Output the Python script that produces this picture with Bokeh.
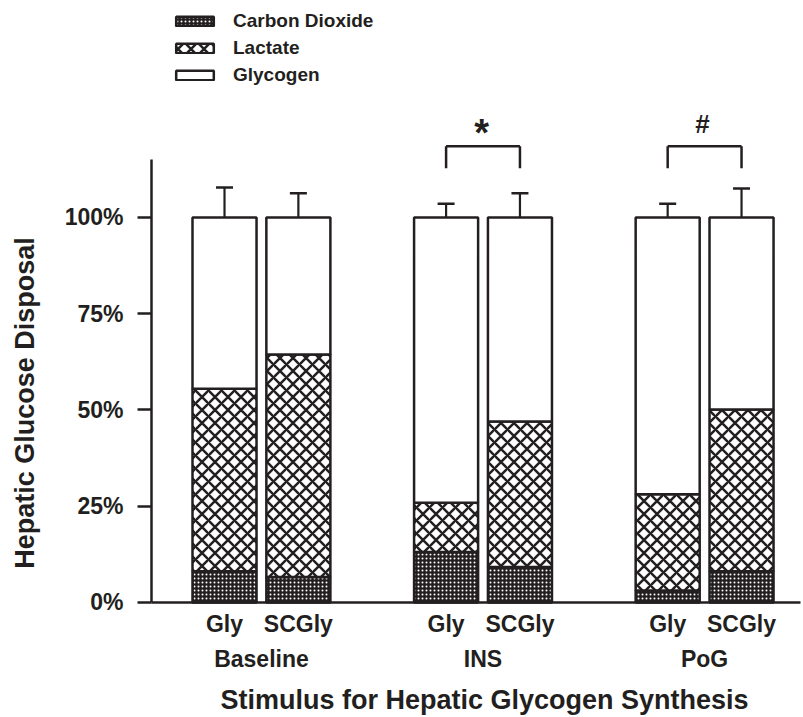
import numpy as np
from bokeh.plotting import figure
from bokeh.models import (Range1d, FixedTicker, ColumnDataSource, Whisker, TeeHead,
                          Legend, LegendItem, LinearAxis)
from bokeh.core.properties import value
from bokeh.embed import file_html
from bokeh.resources import INLINE

# ---- data ----
conditions = ["Gly", "SCGly", "Gly", "SCGly", "Gly", "SCGly"]
groups = ["Baseline", "INS", "PoG"]
co2 = [8.1, 6.6, 13.1, 9.2, 3.1, 8.1]
lactate = [47.4, 57.8, 12.8, 37.8, 25.0, 42.0]
glycogen = [44.5, 35.6, 74.1, 53.0, 71.9, 49.9]
co2_err = [2.4, 2.2, 3.4, 2.3, 1.3, 2.8]
lactate_err = [8.0, 6.2, 3.9, 3.4, 3.8, 8.3]
glycogen_err = [7.8, 6.3, 3.6, 6.3, 3.6, 7.5]
y_ticks = [0, 25, 50, 75, 100]
y_tick_labels = ["0%", "25%", "50%", "75%", "100%"]
series_names = ["Carbon Dioxide", "Lactate", "Glycogen"]
sig_marks = [("INS", "*"), ("PoG", "#")]
x_title = "Stimulus for Hepatic Glycogen Synthesis"
y_title = "Hepatic Glucose Disposal"

# ---- layout ----
FONT = "Liberation Sans"
INK = "#231f20"
xpos = np.array([0, 1, 3, 4, 6, 7], dtype=float)
group_centers = [0.5, 3.5, 6.5]
bw = 0.867
X_AXIS_AT = -0.988      # x position of the y axis
Y_TOP = 115.06          # top end of the y axis line

c0 = np.array(co2)
c1 = c0 + np.array(lactate)
c2 = c1 + np.array(glycogen)

src = ColumnDataSource(dict(
    x=xpos, b0=np.zeros(6), t0=c0, t1=c1, t2=c2,
    e0=c0 + np.array(co2_err), e1=c1 + np.array(lactate_err), e2=c2 + np.array(glycogen_err)))

p = figure(width=803, height=717, output_backend="svg", toolbar_location=None,
           x_range=Range1d(-3.033, 7.839), y_range=Range1d(-29.87, 156.36),
           min_border_left=0, min_border_right=0, min_border_top=0, min_border_bottom=0)
p.outline_line_color = None
p.xgrid.visible = False
p.ygrid.visible = False
p.background_fill_color = "white"

r0 = p.vbar(x="x", bottom="b0", top="t0", width=bw, source=src, fill_color=INK,
            hatch_pattern="dot", hatch_color="white", hatch_scale=4, hatch_weight=1.5,
            line_color=INK, line_width=2.5)
r1 = p.vbar(x="x", bottom="t0", top="t1", width=bw, source=src, fill_color="white",
            hatch_pattern="diagonal_cross", hatch_color=INK, hatch_scale=13, hatch_weight=2.5,
            line_color=INK, line_width=2.5)
r2 = p.vbar(x="x", bottom="t1", top="t2", width=bw, source=src, fill_color="white",
            line_color=INK, line_width=2.5)

for lo, hi in [("t0", "e0"), ("t1", "e1"), ("t2", "e2")]:
    w = Whisker(source=src, base="x", lower=lo, upper=hi, line_color=INK, line_width=2.2,
                upper_head=TeeHead(size=17, line_color=INK, line_width=2.5), lower_head=None)
    p.add_layout(w)

# y axis, fixed at the left end of the x axis
p.yaxis.fixed_location = X_AXIS_AT
p.yaxis.ticker = FixedTicker(ticks=y_ticks)
p.yaxis.bounds = (0, Y_TOP)
p.yaxis.major_label_overrides = {t: l for t, l in zip(y_ticks, y_tick_labels)}
p.yaxis.minor_tick_line_color = None
p.yaxis.major_tick_out = 14
p.yaxis.major_tick_in = 0
p.yaxis.major_tick_line_width = 2.5
p.yaxis.major_tick_line_color = INK
p.yaxis.axis_line_width = 2.5
p.yaxis.axis_line_color = INK
p.yaxis.major_label_standoff = 14
p.yaxis.major_label_text_font = FONT
p.yaxis.major_label_text_font_style = "bold"
p.yaxis.major_label_text_font_size = "23px"
p.yaxis.major_label_text_color = INK

# x axis (conditions), fixed at y = 0
p.xaxis.fixed_location = 0
p.xaxis.bounds = (X_AXIS_AT, 7.799)
p.xaxis.ticker = FixedTicker(ticks=list(xpos))
p.xaxis.major_label_overrides = {float(x): c for x, c in zip(xpos, conditions)}
p.xaxis.minor_tick_line_color = None
p.xaxis.major_tick_line_color = None
p.xaxis.major_tick_out = 0
p.xaxis.major_tick_in = 0
p.xaxis.axis_line_width = 2.5
p.xaxis.axis_line_color = INK
p.xaxis.major_label_standoff = 9
p.xaxis.major_label_text_font = FONT
p.xaxis.major_label_text_font_style = "bold"
p.xaxis.major_label_text_font_size = "23px"
p.xaxis.major_label_text_color = INK

# second x axis (groups)
gax = LinearAxis(fixed_location=0, ticker=FixedTicker(ticks=group_centers),
                 major_label_overrides={float(g): n for g, n in zip(group_centers, groups)},
                 axis_line_color=None, major_tick_line_color=None, minor_tick_line_color=None,
                 major_tick_out=0, major_tick_in=0, major_label_standoff=44,
                 major_label_text_font=FONT, major_label_text_font_style="bold",
                 major_label_text_font_size="23px", major_label_text_color=INK)
p.add_layout(gax, "below")

# axis titles
p.text(x=[3.52], y=[-25.4], text=[x_title], text_align="center", text_baseline="middle",
       text_font=value(FONT), text_font_style="bold", text_font_size="27px", text_color=INK)
p.text(x=[-2.696], y=[51.8], text=[y_title], angle=np.pi / 2, text_align="center",
       text_baseline="middle", text_font=value(FONT), text_font_style="bold",
       text_font_size="27px", text_color=INK)

# significance brackets
bx0, by0, bx1, by1 = [], [], [], []
for gname, mark in sig_marks:
    gi = groups.index(gname)
    xa, xb = xpos[2 * gi], xpos[2 * gi + 1]
    ytop, ybot = 118.5, 112.8
    bx0 += [xa, xa, xb]; by0 += [ybot, ytop, ytop]
    bx1 += [xa, xb, xb]; by1 += [ytop, ytop, ybot]
p.segment(bx0, by0, bx1, by1, line_color=INK, line_width=2.5)
p.text(x=[(xpos[2] + xpos[3]) / 2 - 0.02], y=[121.9], text=[sig_marks[0][1]],
       text_align="center", text_baseline="middle", text_font=value(FONT),
       text_font_style="bold", text_font_size="38px", text_color=INK)
p.text(x=[(xpos[4] + xpos[5]) / 2 - 0.03], y=[124.4], text=[sig_marks[1][1]],
       text_align="center", text_baseline="middle", text_font=value(FONT),
       text_font_style="bold", text_font_size="26px", text_color=INK)

legend = Legend(items=[LegendItem(label=series_names[0], renderers=[r0]),
                       LegendItem(label=series_names[1], renderers=[r1]),
                       LegendItem(label=series_names[2], renderers=[r2])],
                location=(171, 630.5), border_line_color=None, background_fill_alpha=0,
                padding=0, margin=0, glyph_width=47, glyph_height=12, label_standoff=15,
                label_text_font=FONT, label_text_font_style="bold", label_text_font_size="19px",
                label_text_color=INK, spacing=4, label_height=23)
p.add_layout(legend)

open("out.html", "w").write(file_html(p, INLINE))
